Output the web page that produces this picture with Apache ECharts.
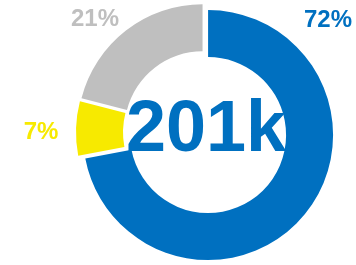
<!DOCTYPE html>
<html>
<head>
<meta charset="utf-8">
<script src="https://cdn.jsdelivr.net/npm/echarts@6/dist/echarts.min.js"></script>
<style>
  html, body { margin: 0; padding: 0; background: #fff; }
  #chart { width: 356px; height: 265px; }
</style>
</head>
<body>
<div id="chart"></div>
<script>
// slices, clockwise from 12 o'clock
const names = ['A', 'B', 'C'];
const shares = [72, 7, 21];
const colors = ['#0070C0', '#F7EA00', '#BFBFBF'];
const totalLabel = '201k';

// where each percent label sits (px)
const labelPos = [[328, 20], [41, 132], [95, 19]];

const font = 'Arial, "Liberation Sans", sans-serif';
const chart = echarts.init(document.getElementById('chart'));

// percent labels, drawn as text next to the ring
const pctLabels = shares.map((v, i) => ({
  type: 'text',
  z: 100,
  style: {
    x: labelPos[i][0],
    y: labelPos[i][1],
    text: v + '%',
    fill: colors[i],
    font: 'bold 24px ' + font,
    textAlign: 'center',
    textVerticalAlign: 'middle'
  }
}));

chart.setOption({
  animation: false,
  series: [{
    type: 'pie',
    center: [205, 132.5],
    radius: [78, 125],
    startAngle: 90,
    clockwise: true,
    selectedMode: 'multiple',
    selectedOffset: 4,
    silent: true,
    label: { show: false },
    labelLine: { show: false },
    data: shares.map((v, i) => ({
      name: names[i],
      value: v,
      selected: true,
      itemStyle: { color: colors[i] }
    }))
  }],
  graphic: pctLabels.concat([{
    type: 'text',
    z: 100,
    style: {
      x: 206,
      y: 131,
      text: totalLabel,
      fill: '#0070C0',
      font: 'bold 72px ' + font,
      textAlign: 'center',
      textVerticalAlign: 'middle'
    }
  }])
});
</script>
</body>
</html>
